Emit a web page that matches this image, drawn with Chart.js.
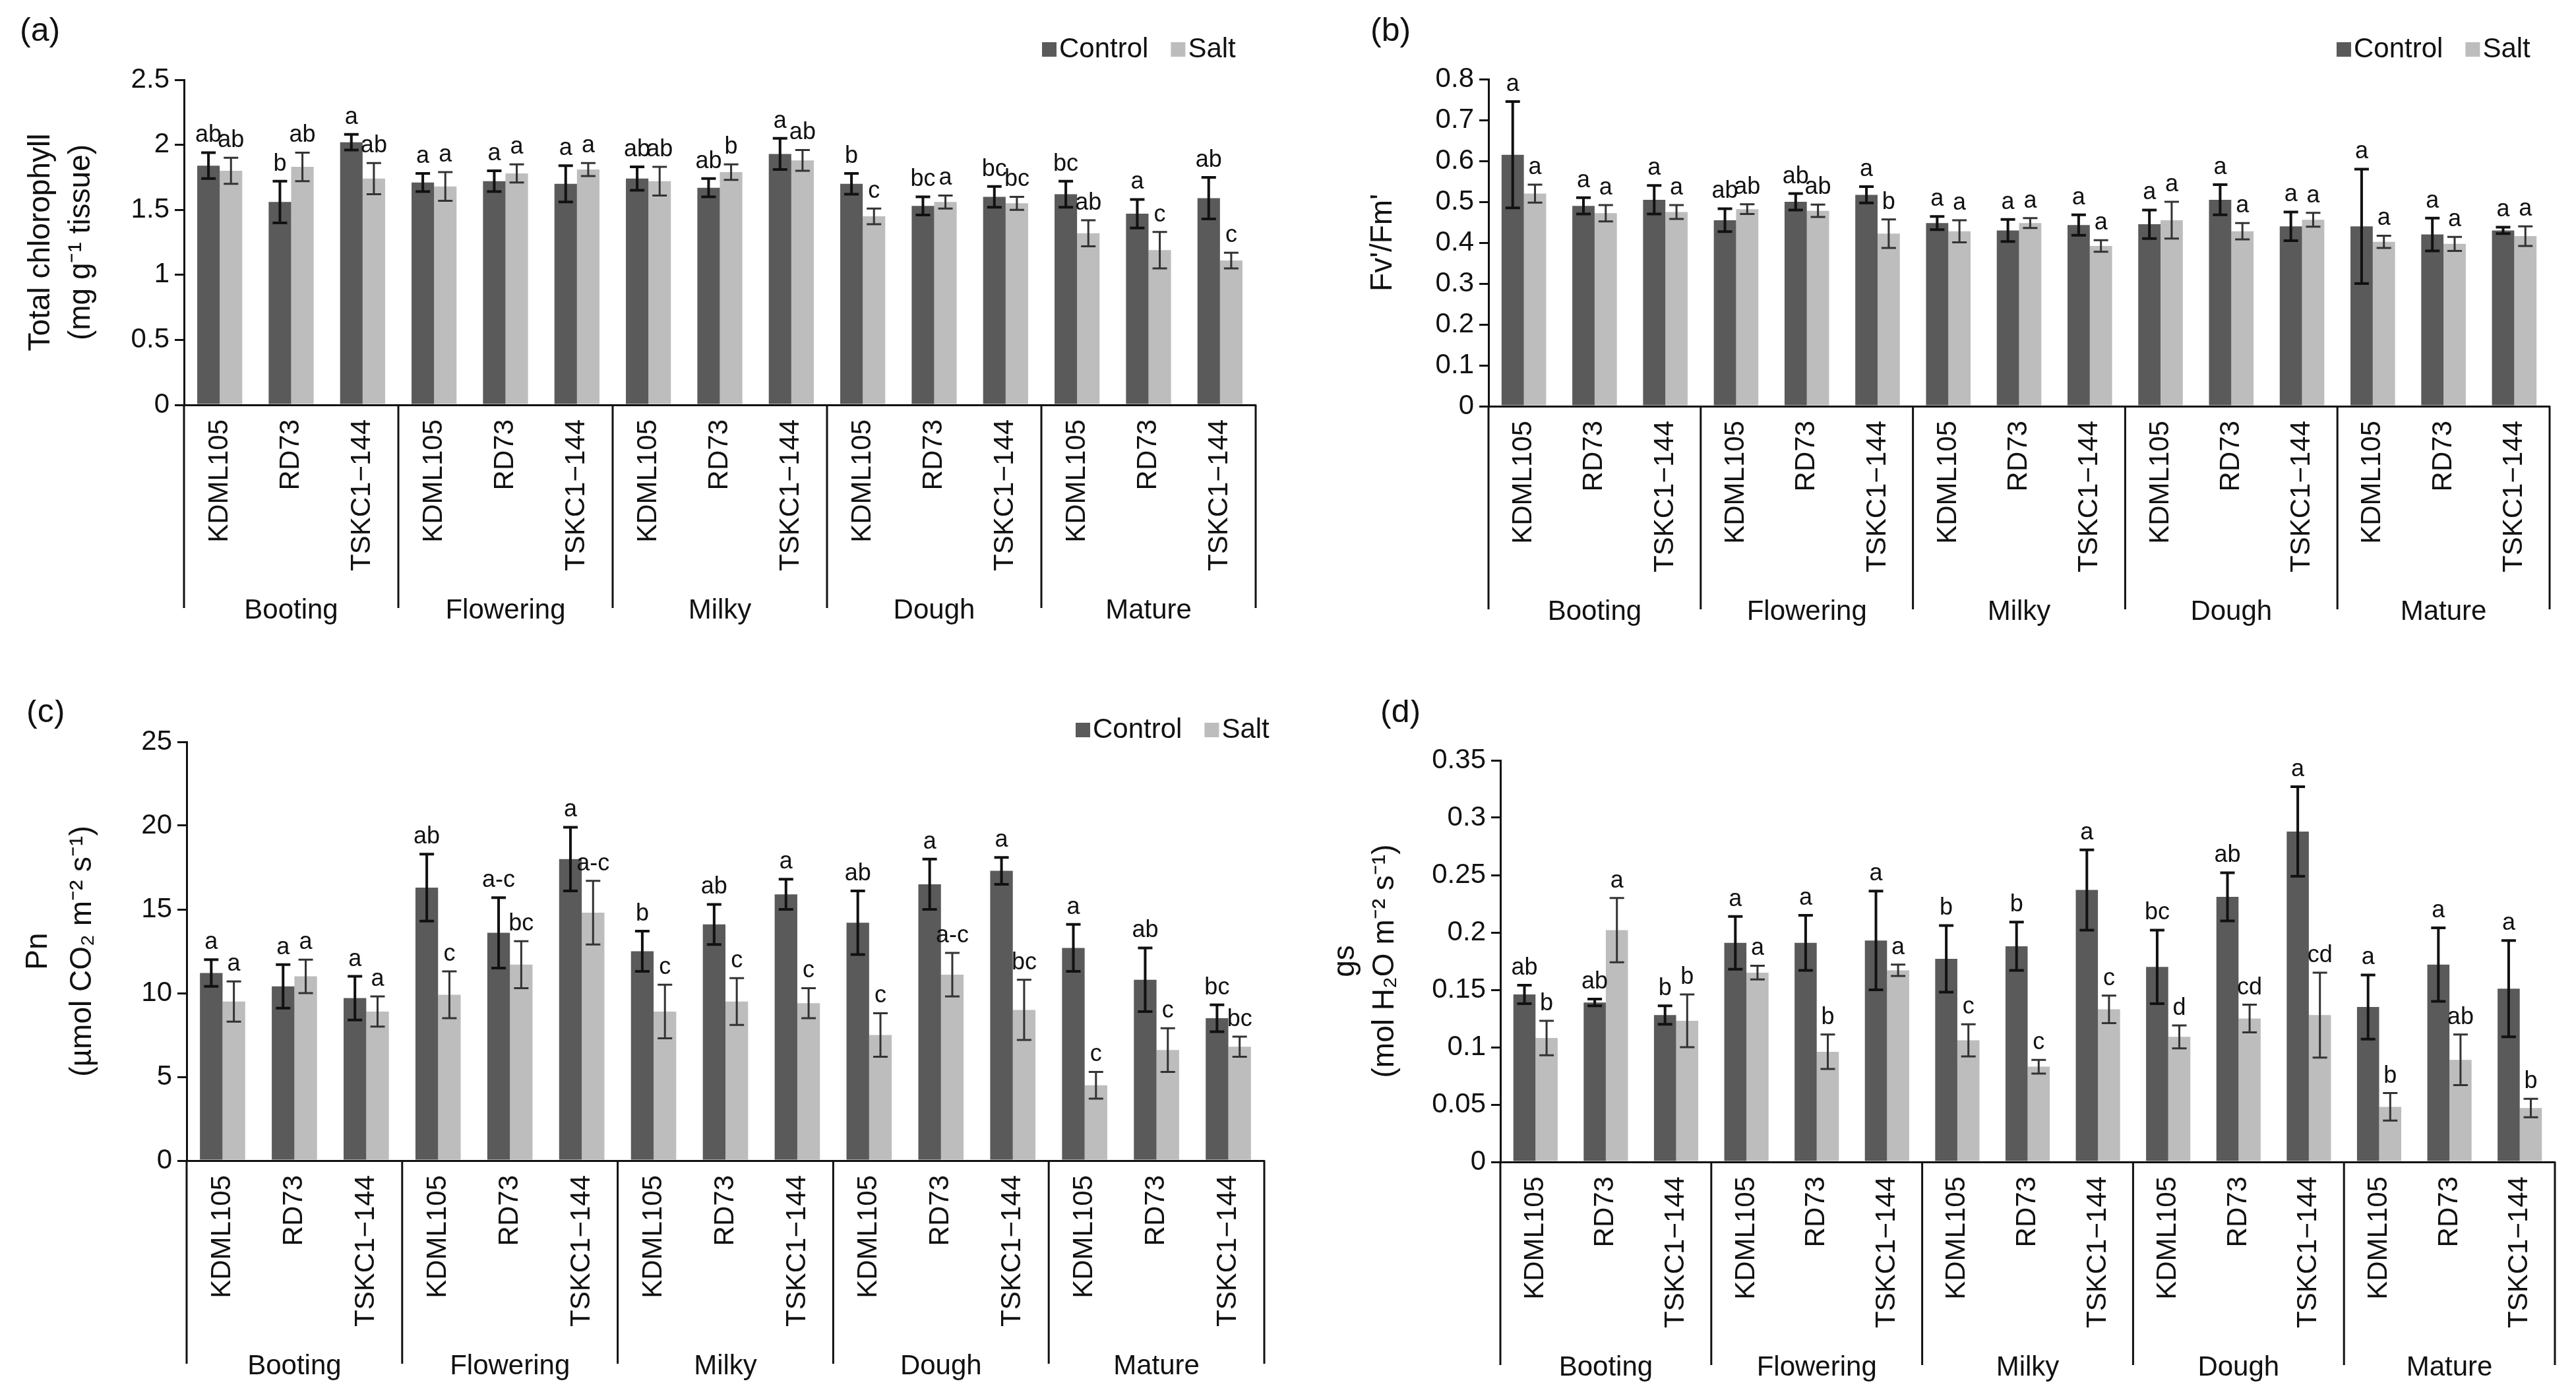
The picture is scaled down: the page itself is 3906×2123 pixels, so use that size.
<!DOCTYPE html>
<html>
<head>
<meta charset="utf-8">
<script src="https://cdn.jsdelivr.net/npm/chart.js@4.4.1/dist/chart.umd.min.js"></script>
<style>
  html, body { margin: 0; padding: 0; background: #fff; }
  canvas { position: absolute; }
</style>
</head>
<body>
<canvas id="chA" width="1953" height="1061" style="left:0;top:0"></canvas>
<canvas id="chB" width="1953" height="1061" style="left:1953px;top:0"></canvas>
<canvas id="chC" width="1953" height="1062" style="left:0;top:1061px"></canvas>
<canvas id="chD" width="1953" height="1062" style="left:1953px;top:1061px"></canvas>
<script>
// ── DATA ─────────────────────────────────────────────────────────────────────
const cultivars = ['KDML105', 'RD73', 'TSKC1\u2212144'];
const stages = ['Booting', 'Flowering', 'Milky', 'Dough', 'Mature'];
const labels = stages.flatMap(() => cultivars);

// (a) Total chlorophyll
const chlCtrl    = [1.84, 1.56, 2.02, 1.71, 1.72, 1.70, 1.74, 1.67, 1.93, 1.70, 1.53, 1.60, 1.62, 1.47, 1.59];
const chlCtrlErr = [0.10, 0.16, 0.06, 0.07, 0.08, 0.14, 0.09, 0.07, 0.12, 0.08, 0.07, 0.08, 0.10, 0.11, 0.16];
const chlSalt    = [1.80, 1.83, 1.74, 1.68, 1.78, 1.81, 1.72, 1.79, 1.88, 1.45, 1.56, 1.55, 1.32, 1.19, 1.11];
const chlSaltErr = [0.10, 0.11, 0.12, 0.11, 0.07, 0.05, 0.11, 0.06, 0.08, 0.06, 0.05, 0.05, 0.10, 0.14, 0.06];
const chlCtrlLet = ['ab', 'b', 'a', 'a', 'a', 'a', 'ab', 'ab', 'a', 'b', 'bc', 'bc', 'bc', 'a', 'ab'];
const chlSaltLet = ['ab', 'ab', 'ab', 'a', 'a', 'a', 'ab', 'b', 'ab', 'c', 'a', 'bc', 'ab', 'c', 'c'];

// (b) Fv'/Fm'
const fvCtrl    = [0.615, 0.490, 0.505, 0.455, 0.500, 0.517, 0.448, 0.430, 0.443, 0.445, 0.505, 0.440, 0.440, 0.420, 0.430];
const fvCtrlErr = [0.130, 0.020, 0.035, 0.028, 0.020, 0.020, 0.016, 0.027, 0.025, 0.035, 0.037, 0.035, 0.140, 0.040, 0.008];
const fvSalt    = [0.520, 0.472, 0.475, 0.482, 0.478, 0.422, 0.428, 0.448, 0.392, 0.455, 0.428, 0.456, 0.402, 0.397, 0.416];
const fvSaltErr = [0.022, 0.020, 0.017, 0.012, 0.015, 0.035, 0.027, 0.012, 0.014, 0.045, 0.020, 0.017, 0.015, 0.017, 0.024];
const fvCtrlLet = ['a', 'a', 'a', 'ab', 'ab', 'a', 'a', 'a', 'a', 'a', 'a', 'a', 'a', 'a', 'a'];
const fvSaltLet = ['a', 'a', 'a', 'ab', 'ab', 'b', 'a', 'a', 'a', 'a', 'a', 'a', 'a', 'a', 'a'];

// (c) Pn
const pnCtrl    = [11.2, 10.4, 9.7, 16.3, 13.6, 18.0, 12.5, 14.1, 15.9, 14.2, 16.5, 17.3, 12.7, 10.8, 8.5];
const pnCtrlErr = [0.8, 1.3, 1.3, 2.0, 2.1, 1.9, 1.2, 1.2, 0.9, 1.9, 1.5, 0.8, 1.4, 1.9, 0.8];
const pnSalt    = [9.5, 11.0, 8.9, 9.9, 11.7, 14.8, 8.9, 9.5, 9.4, 7.5, 11.1, 9.0, 4.5, 6.6, 6.8];
const pnSaltErr = [1.2, 1.0, 0.9, 1.4, 1.4, 1.9, 1.6, 1.4, 0.9, 1.3, 1.3, 1.8, 0.8, 1.3, 0.6];
const pnCtrlLet = ['a', 'a', 'a', 'ab', 'a-c', 'a', 'b', 'ab', 'a', 'ab', 'a', 'a', 'a', 'ab', 'bc'];
const pnSaltLet = ['a', 'a', 'a', 'c', 'bc', 'a-c', 'c', 'c', 'c', 'c', 'a-c', 'bc', 'c', 'c', 'bc'];

// (d) gs
const gsCtrl    = [0.146, 0.139, 0.128, 0.191, 0.191, 0.193, 0.177, 0.188, 0.237, 0.170, 0.231, 0.288, 0.135, 0.172, 0.151];
const gsCtrlErr = [0.008, 0.003, 0.008, 0.023, 0.024, 0.043, 0.029, 0.021, 0.035, 0.032, 0.021, 0.039, 0.028, 0.032, 0.042];
const gsSalt    = [0.108, 0.202, 0.123, 0.165, 0.096, 0.167, 0.106, 0.083, 0.133, 0.109, 0.125, 0.128, 0.048, 0.089, 0.047];
const gsSaltErr = [0.015, 0.028, 0.023, 0.006, 0.015, 0.005, 0.014, 0.006, 0.012, 0.010, 0.012, 0.037, 0.012, 0.022, 0.008];
const gsCtrlLet = ['ab', 'ab', 'b', 'a', 'a', 'a', 'b', 'b', 'a', 'bc', 'ab', 'a', 'a', 'a', 'a'];
const gsSaltLet = ['b', 'a', 'b', 'a', 'b', 'a', 'c', 'c', 'c', 'd', 'cd', 'cd', 'b', 'ab', 'b'];

// ── STYLE ────────────────────────────────────────────────────────────────────
const CTRL_COLOR = '#5a5a5a';
const SALT_COLOR = '#bdbdbd';
const FONT = '"Liberation Sans", Arial, sans-serif';
const NARROW = '"Liberation Sans Narrow", "Liberation Sans", Arial, sans-serif';

// Error bars, significance letters, stage grouping, titles, legend
const decorPlugin = {
    id: 'decor',
    afterDraw(chart) {
        const o = chart.options.plugins.decor;
        const ctx = chart.ctx;
        const xs = chart.scales.x, ys = chart.scales.y;
        ctx.save();

        // error bars + letters
        chart.data.datasets.forEach((ds, di) => {
            const meta = chart.getDatasetMeta(di);
            meta.data.forEach((bar, i) => {
                const v = ds.data[i], e = ds.err[i];
                const yt = ys.getPixelForValue(v + e), yb = ys.getPixelForValue(v - e);
                ctx.strokeStyle = di === 0 ? '#111' : '#333';
                ctx.lineWidth = di === 0 ? 4 : 3;
                ctx.beginPath();
                ctx.moveTo(bar.x, yt); ctx.lineTo(bar.x, yb);
                ctx.moveTo(bar.x - 11, yt); ctx.lineTo(bar.x + 11, yt);
                ctx.moveTo(bar.x - 11, yb); ctx.lineTo(bar.x + 11, yb);
                ctx.stroke();
                ctx.fillStyle = '#111';
                ctx.font = '36px ' + NARROW;
                ctx.textAlign = 'center';
                ctx.textBaseline = 'bottom';
                ctx.fillText(ds.letters[i], bar.x, yt - 8);
            });
        });

        // stage separators + labels
        const y0 = ys.bottom, yEnd = y0 + 308;
        ctx.strokeStyle = '#111';
        ctx.lineWidth = 3;
        for (let g = 0; g <= stages.length; g++) {
            const x = g === 0 ? xs.left : (g === stages.length ? xs.right : xs.getPixelForValue(g * 3 - 0.5));
            ctx.beginPath(); ctx.moveTo(x, y0); ctx.lineTo(x, yEnd); ctx.stroke();
        }
        ctx.fillStyle = '#111';
        ctx.font = '42px ' + FONT;
        ctx.textAlign = 'center';
        ctx.textBaseline = 'middle';
        stages.forEach((s, g) => ctx.fillText(s, xs.getPixelForValue(g * 3 + 1), y0 + 312));

        // y title (rotated, one or two lines)
        ctx.font = '46px ' + FONT;
        const yc = (ys.top + ys.bottom) / 2;
        o.yTitle.forEach((line, k) => {
            ctx.save();
            ctx.translate(o.yTitleX[k], yc);
            ctx.rotate(-Math.PI / 2);
            ctx.fillText(line, 0, 0);
            ctx.restore();
        });

        // panel tag
        ctx.font = '50px ' + FONT;
        ctx.textAlign = 'left';
        ctx.fillText(o.tag, o.tagPos[0], o.tagPos[1]);

        // legend
        ctx.font = '42px ' + NARROW;
        let lx = o.legendPos[0];
        const ly = o.legendPos[1];
        [['Control', CTRL_COLOR], ['Salt', SALT_COLOR]].forEach(([t, c]) => {
            ctx.fillStyle = c;
            ctx.fillRect(lx, ly - 11, 22, 22);
            ctx.fillStyle = '#111';
            ctx.fillText(t, lx + 26, ly);
            lx += 26 + ctx.measureText(t).width + 34;
        });
        ctx.restore();
    }
};

function makePanel(id, cfg) {
    new Chart(document.getElementById(id), {
        type: 'bar',
        data: {
            labels,
            datasets: [
                { label: 'Control', data: cfg.ctrl, err: cfg.ctrlErr, letters: cfg.ctrlLet, backgroundColor: CTRL_COLOR },
                { label: 'Salt', data: cfg.salt, err: cfg.saltErr, letters: cfg.saltLet, backgroundColor: SALT_COLOR },
            ],
        },
        options: {
            responsive: false,
            animation: false,
            devicePixelRatio: 1,
            categoryPercentage: 0.63,
            barPercentage: 1.0,
            layout: { padding: { left: 0, top: cfg.padTop, right: cfg.padRight, bottom: 0 } },
            plugins: {
                legend: { display: false },
                tooltip: { enabled: false },
                decor: { yTitle: cfg.yTitle, yTitleX: cfg.yTitleX, tag: cfg.tag, tagPos: cfg.tagPos, legendPos: cfg.legendPos },
            },
            scales: {
                x: {
                    grid: { display: false },
                    border: { display: true, color: '#111', width: 3 },
                    ticks: { color: '#111', font: { family: FONT, size: 42 }, minRotation: 90, maxRotation: 90, padding: 14, autoSkip: false },
                    afterFit: s => { s.height = cfg.xHeight; },
                },
                y: {
                    min: 0, max: cfg.max,
                    grid: { drawOnChartArea: false, drawTicks: true, tickLength: 14, color: '#111', lineWidth: 3 },
                    border: { display: true, color: '#111', width: 3 },
                    ticks: { stepSize: cfg.step, color: '#111', font: { family: FONT, size: 42 }, padding: 8,
                             callback: v => String(+v.toFixed(2)) },
                    afterFit: s => { s.width = cfg.yWidth; },
                },
            },
        },
        plugins: [decorPlugin],
    });
}

makePanel('chA', {
    ctrl: chlCtrl, ctrlErr: chlCtrlErr, ctrlLet: chlCtrlLet,
    salt: chlSalt, saltErr: chlSaltErr, saltLet: chlSaltLet,
    max: 2.5, step: 0.5, yWidth: 279, padTop: 121, padRight: 49, xHeight: 447,
    yTitle: ['Total chlorophyll', '(mg g\u207B\u00B9 tissue)'], yTitleX: [62, 123],
    tag: '(a)', tagPos: [30, 48], legendPos: [1580, 75],
});
makePanel('chB', {
    ctrl: fvCtrl, ctrlErr: fvCtrlErr, ctrlLet: fvCtrlLet,
    salt: fvSalt, saltErr: fvSaltErr, saltLet: fvSaltLet,
    max: 0.8, step: 0.1, yWidth: 304, padTop: 120, padRight: 40, xHeight: 445,
    yTitle: ["Fv'/Fm'"], yTitleX: [144],
    tag: '(b)', tagPos: [125, 48], legendPos: [1590, 75],
});
makePanel('chC', {
    ctrl: pnCtrl, ctrlErr: pnCtrlErr, ctrlLet: pnCtrlLet,
    salt: pnSalt, saltErr: pnSaltErr, saltLet: pnSaltLet,
    max: 25, step: 5, yWidth: 283, padTop: 64, padRight: 36, xHeight: 363,
    yTitle: ['Pn', '(\u00B5mol CO\u2082 m\u207B\u00B2 s\u207B\u00B9)'], yTitleX: [58, 125],
    tag: '(c)', tagPos: [40, 20], legendPos: [1631, 46],
});
makePanel('chD', {
    ctrl: gsCtrl, ctrlErr: gsCtrlErr, ctrlLet: gsCtrlLet,
    salt: gsSalt, saltErr: gsSaltErr, saltLet: gsSaltLet,
    max: 0.35, step: 0.05, yWidth: 322, padTop: 92, padRight: 32, xHeight: 361,
    yTitle: ['gs', '(mol H\u2082O m\u207B\u00B2 s\u207B\u00B9)'], yTitleX: [87, 147],
    tag: '(d)', tagPos: [140, 20], legendPos: [1550, -16],
});
</script>
</body>
</html>
